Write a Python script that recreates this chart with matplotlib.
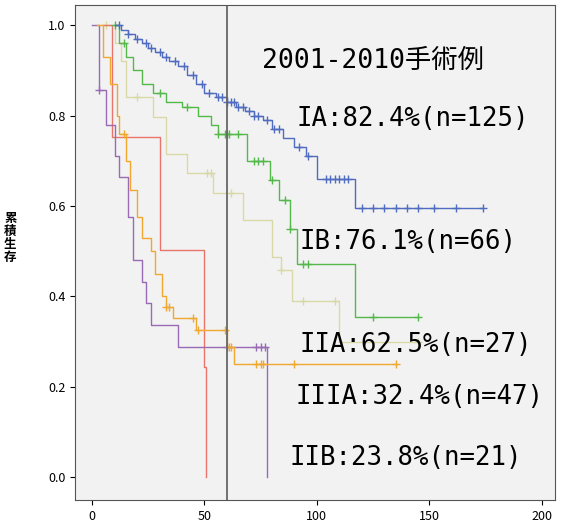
import matplotlib
matplotlib.use('Agg')
import matplotlib.pyplot as plt

plt.rcParams['font.family'] = ['Noto Sans CJK JP', 'DejaVu Sans']

# 生存曲線 (時間[月], 累積生存) - 画像から読み取り
ia_t = [10, 13, 16, 19, 22, 25, 28, 31, 34, 38, 42, 46, 50, 55, 60, 64, 68, 72, 76, 80, 85, 90, 95, 100, 117, 174]
ia_s = [1.0, 0.99, 0.98, 0.97, 0.96, 0.95, 0.94, 0.93, 0.92, 0.91, 0.89, 0.87, 0.85, 0.84, 0.83, 0.82, 0.81, 0.80, 0.79, 0.77, 0.75, 0.73, 0.71, 0.66, 0.595, 0.595]
ia_c = [12, 16, 20, 24, 26, 30, 33, 37, 41, 45, 49, 52, 56, 58, 60, 62, 63, 65, 67, 70, 72, 74, 78, 81, 83, 92, 96, 104, 106, 108, 110, 112, 114, 120, 125, 130, 135, 140, 145, 152, 162, 174]

ib_t = [10, 12, 15, 18, 22, 27, 33, 40, 47, 53, 56, 69, 79, 83, 88, 91, 117, 145]
ib_s = [1.0, 0.96, 0.93, 0.90, 0.87, 0.85, 0.83, 0.82, 0.80, 0.78, 0.76, 0.70, 0.657, 0.613, 0.55, 0.471, 0.354, 0.354]
ib_c = [10, 14, 30, 42, 56, 59, 60, 61, 65, 72, 74, 76, 80, 86, 88, 94, 96, 125, 145]

iia_t = [3, 10, 13, 15, 27, 33, 42, 54, 67, 80, 84, 89, 110, 145]
iia_s = [1.0, 0.96, 0.92, 0.84, 0.797, 0.716, 0.672, 0.628, 0.568, 0.487, 0.458, 0.39, 0.30, 0.30]
iia_c = [6, 20, 51, 53, 62, 84, 94, 108, 145]

iiia_t = [2, 5, 8, 11, 12, 15, 17, 20, 22, 26, 28, 31, 33, 36, 46, 60, 63, 135]
iiia_s = [1.0, 0.93, 0.87, 0.80, 0.76, 0.70, 0.635, 0.575, 0.53, 0.50, 0.45, 0.40, 0.377, 0.352, 0.327, 0.288, 0.25, 0.25]
iiia_c = [14, 33, 34, 45, 47, 59, 61, 62, 73, 75, 76, 90, 135]

iib_t = [0, 3, 6, 10, 12, 16, 18, 22, 24, 26, 38, 78, 78]
iib_s = [1.0, 0.856, 0.78, 0.71, 0.664, 0.575, 0.48, 0.431, 0.385, 0.336, 0.288, 0.24, 0.0]
iib_c = [3, 60, 73, 75, 77]

red_t = [5, 9, 30, 50, 50.5, 50.5]
red_s = [1.0, 0.753, 0.502, 0.245, 0.245, 0.0]
red_c = []


def km_value(t_list, s_list, x):
    v = s_list[0]
    for t, s in zip(t_list, s_list):
        if t <= x:
            v = s
    return v


def draw(ax, t, s, cens, color):
    ax.step(t, s, where='post', color=color, lw=1.0)
    ys = [km_value(t, s, c) for c in cens]
    ax.plot(cens, ys, ls='none', marker='+', ms=6, mew=1.0, color=color)


fig = plt.figure(figsize=(5.7, 5.28), dpi=100)
ax = fig.add_axes([0.132, 0.053, 0.842, 0.938])
ax.set_facecolor('#f2f2f2')

draw(ax, iia_t, iia_s, iia_c, '#d9d9a8')
draw(ax, red_t, red_s, red_c, '#e8746c')
draw(ax, iib_t, iib_s, iib_c, '#9a6bb5')
draw(ax, iiia_t, iiia_s, iiia_c, '#f0a830')
draw(ax, ib_t, ib_s, ib_c, '#55b84a')
draw(ax, ia_t, ia_s, ia_c, '#4f6cc0')

ax.axvline(60, color='#666666', lw=1.3)

ax.set_xlim(-7.5, 206)
ax.set_ylim(-0.05, 1.045)
ax.set_xticks([0, 50, 100, 150, 200])
ax.set_yticks([0.0, 0.2, 0.4, 0.6, 0.8, 1.0])
ax.set_yticklabels(['0.0', '0.2', '0.4', '0.6', '0.8', '1.0'])
ax.tick_params(labelsize=9)
for sp in ax.spines.values():
    sp.set_color('#555555')

fig.text(0.018, 0.55, '累\n積\n生\n存', fontsize=9, ha='center', va='center',
         linespacing=1.0, fontweight='bold')

mono = ['DejaVu Sans Mono', 'Noto Sans CJK JP']
labels = [
    ('2001-2010手術例', 0.46, 0.885, 19),
    ('IA:82.4%(n=125)', 0.52, 0.775, 18.5),
    ('IB:76.1%(n=66)', 0.525, 0.542, 18.5),
    ('IIA:62.5%(n=27)', 0.525, 0.347, 18.5),
    ('IIIA:32.4%(n=47)', 0.518, 0.248, 18.5),
    ('IIB:23.8%(n=21)', 0.508, 0.133, 18.5),
]
for txt, x, y, fs in labels:
    fig.text(x, y, txt, fontsize=fs, ha='left', va='center', family=mono)

fig.savefig('out.png', dpi=100)
